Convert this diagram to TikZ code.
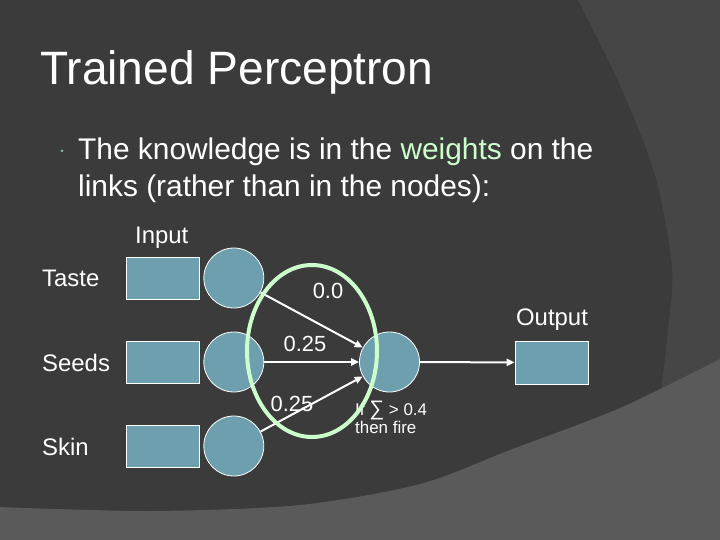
\documentclass[tikz,border=0pt]{standalone}
\usepackage{fontspec}
\setmainfont{Liberation Sans}
\usetikzlibrary{arrows.meta,positioning}
\definecolor{slatebg}{HTML}{3B3B3B}
\definecolor{bandgray}{HTML}{464646}
\definecolor{floorgray}{HTML}{5A5A5A}
\definecolor{unitteal}{HTML}{6D9FAF}
\definecolor{mint}{HTML}{CCFFCC}
\definecolor{dotblue}{HTML}{8FA9B3}

\begin{document}
\begin{tikzpicture}[x=1bp, y=-1bp,
  node distance=4bp,
  unitbox/.style={draw=white, line width=0.8bp, fill=unitteal, minimum width=73bp,
                  minimum height=42bp, inner sep=0pt},
  unitcirc/.style={circle, draw=white, line width=0.8bp, fill=unitteal,
                   minimum size=60bp, inner sep=0pt},
  sidetext/.style={text=white, font=\fontsize{24}{28}\selectfont, inner sep=0pt,
                   anchor=base west},
  weight/.style={text=white, font=\fontsize{22}{26}\selectfont, inner sep=0pt,
                 anchor=base},
  rule/.style={text=white, font=\fontsize{17}{20}\selectfont, inner sep=0pt,
               anchor=base west},
  body/.style={text=white, font=\fontsize{30}{37}\selectfont, inner sep=0pt,
               anchor=base west},
  arrow/.style={-{Triangle[length=8bp,width=7bp]}, line width=2bp, draw=white}
]
  \useasboundingbox (0,0) rectangle (720,540);
  % slide background
  \fill[slatebg] (0,0) rectangle (720,540);
  \fill[bandgray] plot[smooth] coordinates {(577,-2) (620,85) (655,175) (672,267)
    (668,330) (660,400)} -- (720,540) -- (720,-2) -- cycle;
  \fill[floorgray] plot[smooth] coordinates {(-2,507) (150,511) (300,505) (420,484)
    (510,450) (620,408) (722,358)} -- (722,540) -- (-2,540) -- cycle;

  \node[anchor=base west, text=white, font=\fontsize{47}{56}\selectfont, inner sep=0pt,
    xscale=0.985] (title) at (40,85) {Trained Perceptron};
  \node[circle, fill=dotblue, minimum size=3bp, inner sep=0pt] (dot) at (62,151) {};
  \node[body] (line1) at (78,160) {The knowledge is in the \textcolor{mint}{weights} on the};
  \node[body] (line2) at (78,197) {links (rather than in the nodes):};

  % input layer
  \node[sidetext] (inputlbl) at (135,244) {Input};
  \node[unitbox] (taste) at (162.5,278) {};
  \node[unitcirc, right=of taste] (tastein) {};
  \node[unitbox] (seeds) at (162.5,362) {};
  \node[unitcirc, right=of seeds] (seedsin) {};
  \node[unitbox] (skin) at (162.5,446) {};
  \node[unitcirc, right=of skin] (skinin) {};
  \node[sidetext] (tastelbl) at (42,287) {Taste};
  \node[sidetext] (seedslbl) at (42,371) {Seeds};
  \node[sidetext] (skinlbl) at (42,455) {Skin};

  % output
  \node[unitcirc] (sum) at (389.5,362) {};
  \node[unitbox, minimum height=43bp] (outbox) at (551.5,362.5) {};
  \node[sidetext, anchor=base] (outlbl) at (552,325) {Output};

  \foreach \a in {tastein,seedsin,skinin}
    \draw[arrow] (\a) -- (sum);
  \draw[arrow] (sum) -- (outbox);

  \node[weight] (w1) at (328,298) {0.0};
  \node[weight] (w2) at (305,351) {0.25};
  \node[weight] (w3) at (292,411) {0.25};
  \node[rule] (rule1) at (355,415) {If {\fontsize{21}{20}\selectfont ∑} > 0.4};
  \node[rule] (rule2) at (355,433) {then fire};

  \draw[mint, line width=4bp] (312,351) ellipse [x radius=65, y radius=86];
\end{tikzpicture}
\end{document}
